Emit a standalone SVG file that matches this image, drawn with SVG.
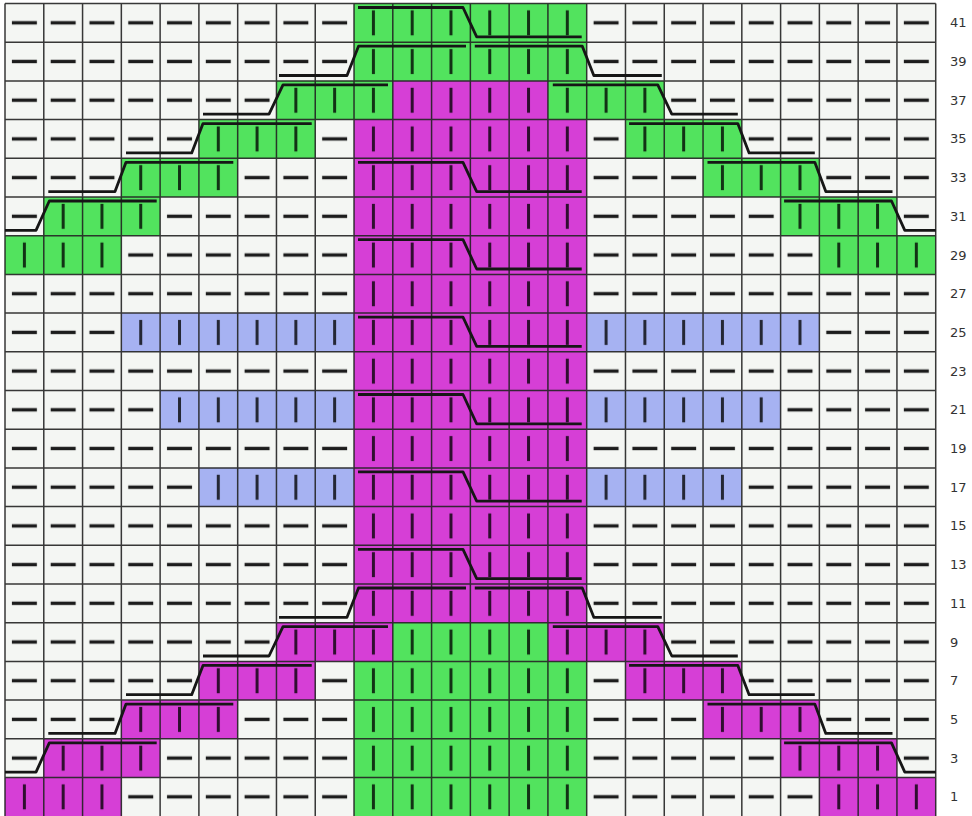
<svg xmlns="http://www.w3.org/2000/svg" xmlns:xlink="http://www.w3.org/1999/xlink" width="972" height="816" viewBox="0 0 972 816">
<style>
.lbl{font-family:"DejaVu Sans","Verdana",sans-serif;font-size:13px;fill:#333}
.grid{fill:none;stroke:#222;stroke-width:1.5;stroke-opacity:0.9}
.cable{fill:none;stroke:#161616;stroke-width:2.8;stroke-linejoin:round}
</style>
<defs>
<pattern id="purl" patternUnits="userSpaceOnUse" x="5" y="3.5" width="38.78" height="38.7">
<rect x="0" y="0" width="38.78" height="38.7" fill="#f4f6f3"/>
<rect x="6.9" y="17.6" width="25" height="3.4" fill="#1c1c1c"/>
</pattern>
<pattern id="knit" patternUnits="userSpaceOnUse" x="5" y="3.5" width="38.78" height="38.7">
<rect x="17.9" y="6.85" width="3" height="25" fill="#000" fill-opacity="0.78"/>
</pattern>
<g id="greenCells">
<rect x="354.02" y="3.5" width="232.68" height="77.4"/>
<rect x="276.46" y="80.9" width="116.34" height="38.7"/>
<rect x="547.92" y="80.9" width="116.34" height="38.7"/>
<rect x="198.9" y="119.6" width="116.34" height="38.7"/>
<rect x="625.48" y="119.6" width="116.34" height="38.7"/>
<rect x="121.34" y="158.3" width="116.34" height="38.7"/>
<rect x="703.04" y="158.3" width="116.34" height="38.7"/>
<rect x="43.78" y="197" width="116.34" height="38.7"/>
<rect x="780.6" y="197" width="116.34" height="38.7"/>
<rect x="5" y="235.7" width="116.34" height="38.7"/>
<rect x="819.38" y="235.7" width="116.34" height="38.7"/>
<rect x="392.8" y="622.7" width="155.12" height="38.7"/>
<rect x="354.02" y="661.4" width="232.68" height="154.8"/>
</g>
<g id="purpleCells">
<rect x="392.8" y="80.9" width="155.12" height="38.7"/>
<rect x="354.02" y="119.6" width="232.68" height="503.1"/>
<rect x="276.46" y="622.7" width="116.34" height="38.7"/>
<rect x="547.92" y="622.7" width="116.34" height="38.7"/>
<rect x="198.9" y="661.4" width="116.34" height="38.7"/>
<rect x="625.48" y="661.4" width="116.34" height="38.7"/>
<rect x="121.34" y="700.1" width="116.34" height="38.7"/>
<rect x="703.04" y="700.1" width="116.34" height="38.7"/>
<rect x="43.78" y="738.8" width="116.34" height="38.7"/>
<rect x="780.6" y="738.8" width="116.34" height="38.7"/>
<rect x="5" y="777.5" width="116.34" height="38.7"/>
<rect x="819.38" y="777.5" width="116.34" height="38.7"/>
</g>
<g id="blueCells">
<rect x="121.34" y="313.1" width="232.68" height="38.7"/>
<rect x="586.7" y="313.1" width="232.68" height="38.7"/>
<rect x="160.12" y="390.5" width="193.9" height="38.7"/>
<rect x="586.7" y="390.5" width="193.9" height="38.7"/>
<rect x="198.9" y="467.9" width="155.12" height="38.7"/>
<rect x="586.7" y="467.9" width="155.12" height="38.7"/>
</g>
</defs>
<rect x="0" y="0" width="972" height="816" fill="#ffffff"/>
<g id="chart">
<rect x="5" y="3.5" width="930.72" height="812.7" fill="url(#purl)"/>
<use href="#greenCells" xlink:href="#greenCells" fill="#52e35e"/>
<use href="#purpleCells" xlink:href="#purpleCells" fill="#d63fd6"/>
<use href="#blueCells" xlink:href="#blueCells" fill="#a6b2f2"/>
<use href="#greenCells" xlink:href="#greenCells" fill="url(#knit)"/>
<use href="#purpleCells" xlink:href="#purpleCells" fill="url(#knit)"/>
<use href="#blueCells" xlink:href="#blueCells" fill="url(#knit)"/>
</g>
<path class="grid" d="M5 3.5V816.2M43.78 3.5V816.2M82.56 3.5V816.2M121.34 3.5V816.2M160.12 3.5V816.2M198.9 3.5V816.2M237.68 3.5V816.2M276.46 3.5V816.2M315.24 3.5V816.2M354.02 3.5V816.2M392.8 3.5V816.2M431.58 3.5V816.2M470.36 3.5V816.2M509.14 3.5V816.2M547.92 3.5V816.2M586.7 3.5V816.2M625.48 3.5V816.2M664.26 3.5V816.2M703.04 3.5V816.2M741.82 3.5V816.2M780.6 3.5V816.2M819.38 3.5V816.2M858.16 3.5V816.2M896.94 3.5V816.2M935.72 3.5V816.2M5 3.5H935.72M5 42.2H935.72M5 80.9H935.72M5 119.6H935.72M5 158.3H935.72M5 197H935.72M5 235.7H935.72M5 274.4H935.72M5 313.1H935.72M5 351.8H935.72M5 390.5H935.72M5 429.2H935.72M5 467.9H935.72M5 506.6H935.72M5 545.3H935.72M5 584H935.72M5 622.7H935.72M5 661.4H935.72M5 700.1H935.72M5 738.8H935.72M5 777.5H935.72"/>
<g id="cables">
<path class="cable" d="M358 7.5H463L476.7 36.8H581.7"/>
<path class="cable" d="M279 75.5H347L358.5 46.2H466M474.8 46.2H582.3L593.8 75.5H661.8"/>
<path class="cable" d="M203 114.2H269L283 84.9H388M552.8 84.9H657.8L671.8 114.2H737.8"/>
<path class="cable" d="M126 152.9H191.7L203 123.6H311.7M629.1 123.6H737.8L749.1 152.9H814.8"/>
<path class="cable" d="M48.3 191.6H115L126 162.3H233.3M707.5 162.3H814.8L825.8 191.6H892.5"/>
<path class="cable" d="M358 162.3H463L476.7 191.6H581.7"/>
<path class="cable" d="M5 230.3H36L49.3 201H156.7M784.1 201H891.5L904.8 230.3H935.8"/>
<path class="cable" d="M358 239.7H463L476.7 269H581.7"/>
<path class="cable" d="M358 317.1H463L476.7 346.4H581.7"/>
<path class="cable" d="M358 394.5H463L476.7 423.8H581.7"/>
<path class="cable" d="M358 471.9H463L476.7 501.2H581.7"/>
<path class="cable" d="M358 549.3H463L476.7 578.6H581.7"/>
<path class="cable" d="M279 617.3H347L358.5 588H466M474.8 588H582.3L593.8 617.3H661.8"/>
<path class="cable" d="M203 656H269L283 626.7H388M552.8 626.7H657.8L671.8 656H737.8"/>
<path class="cable" d="M126 694.7H191.7L203 665.4H311.7M629.1 665.4H737.8L749.1 694.7H814.8"/>
<path class="cable" d="M48.3 733.4H115L126 704.1H233.3M707.5 704.1H814.8L825.8 733.4H892.5"/>
<path class="cable" d="M5 772.1H36L49.3 742.8H156.7M784.1 742.8H891.5L904.8 772.1H935.8"/>
</g>
<g id="labels">
<text class="lbl" x="950" y="27.35">41</text>
<text class="lbl" x="950" y="66.05">39</text>
<text class="lbl" x="950" y="104.75">37</text>
<text class="lbl" x="950" y="143.45">35</text>
<text class="lbl" x="950" y="182.15">33</text>
<text class="lbl" x="950" y="220.85">31</text>
<text class="lbl" x="950" y="259.55">29</text>
<text class="lbl" x="950" y="298.25">27</text>
<text class="lbl" x="950" y="336.95">25</text>
<text class="lbl" x="950" y="375.65">23</text>
<text class="lbl" x="950" y="414.35">21</text>
<text class="lbl" x="950" y="453.05">19</text>
<text class="lbl" x="950" y="491.75">17</text>
<text class="lbl" x="950" y="530.45">15</text>
<text class="lbl" x="950" y="569.15">13</text>
<text class="lbl" x="950" y="607.85">11</text>
<text class="lbl" x="950" y="646.55">9</text>
<text class="lbl" x="950" y="685.25">7</text>
<text class="lbl" x="950" y="723.95">5</text>
<text class="lbl" x="950" y="762.65">3</text>
<text class="lbl" x="950" y="801.35">1</text>
</g>
</svg>
